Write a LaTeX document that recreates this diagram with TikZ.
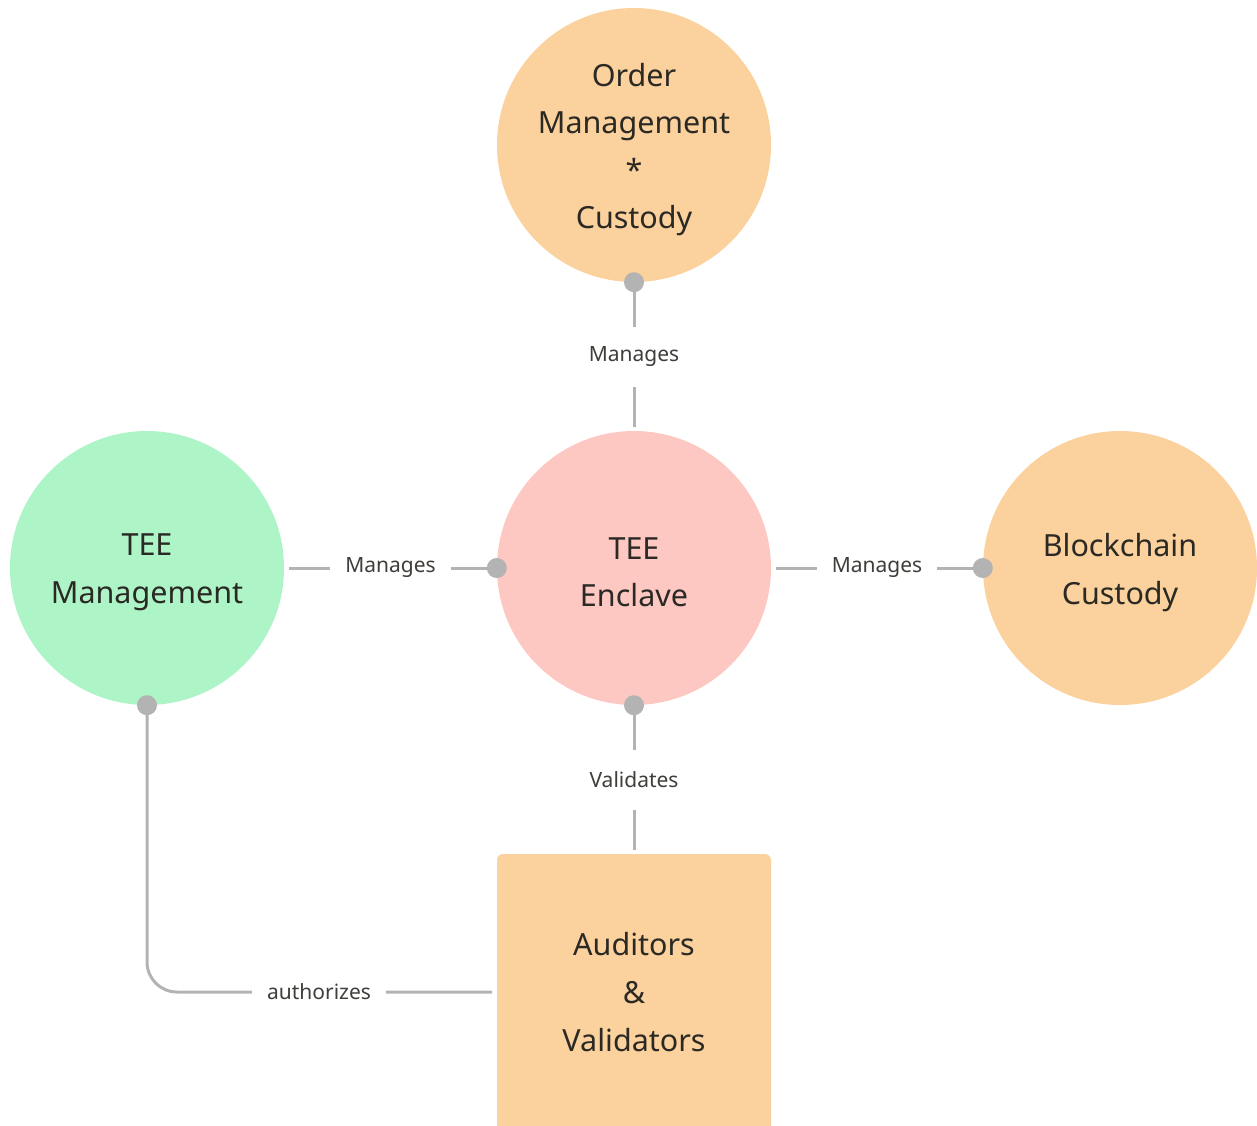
\documentclass[tikz,border=0pt]{standalone}
\usepackage{fontspec}
\setmainfont{Noto Sans}
\begin{document}
\definecolor{peach}{HTML}{FBD19D}
\definecolor{mint}{HTML}{ADF4C7}
\definecolor{blush}{HTML}{FDC7C2}
\definecolor{wire}{HTML}{B3B3B3}
\definecolor{ink}{HTML}{2B2924}
\begin{tikzpicture}[x=1pt,y=-1pt,
  bubble/.style={circle,minimum size=274pt,inner sep=0pt,draw=none,
    label={[align=center,text=ink,font=\fontsize{30.5}{47.5}\selectfont,
      yshift=-4.5pt]center:#1}},
  block/.style={draw=none,inner sep=0pt,align=center,text=ink,
    font=\fontsize{30.5}{48}\selectfont},
  link/.style={draw=wire,line width=3pt},
  lbl/.style={fill=white,text=ink!90,font=\fontsize{21}{24}\selectfont,
    inner xsep=15pt,inner ysep=0pt,minimum height=60pt},
  knob/.style={circle,fill=wire,minimum size=20pt,inner sep=0pt}]
\useasboundingbox (0,0) rectangle (1257,1125);
\begin{scope}
\clip (0,0) rectangle (1257,1125);
% nodes
\node[bubble={Order\\Management\\*\\Custody},fill=peach] (order) at (634,145) {};
\node[bubble={TEE\\Management},fill=mint]  (mgmt)  at (147,568) {};
\node[bubble={TEE\\Enclave},fill=blush] (encl)  at (634,568) {};
\node[bubble={Blockchain\\Custody},fill=peach] (chain) at (1120,568) {};
\fill[peach,rounded corners=6pt] (497,854) rectangle (771,1135);
\coordinate (audw) at (497,992);
\coordinate (audn) at (634,854);
\node[block] (aud) at (634,992) {Auditors\\\&\\Validators};
% connectors
\draw[link,shorten >=4pt] (order.south) -- node[lbl]{Manages} (encl.north);
\draw[link,shorten <=5pt] (mgmt.east) -- node[lbl]{Manages} (encl.west);
\draw[link,shorten <=5pt] (encl.east) -- node[lbl]{Manages} (chain.west);
\draw[link,shorten >=4pt] (encl.south) -- node[lbl]{Validates} (audn);
\draw[link,rounded corners=30pt,shorten >=5pt] (mgmt.south) |- (audw);
\node[lbl] at (319,992) {authorizes};
% attachment knobs
\node[knob] at (order.south) {};
\node[knob] at (encl.west) {};
\node[knob] at (chain.west) {};
\node[knob] at (encl.south) {};
\node[knob] at (mgmt.south) {};
\end{scope}
\end{tikzpicture}
\end{document}
